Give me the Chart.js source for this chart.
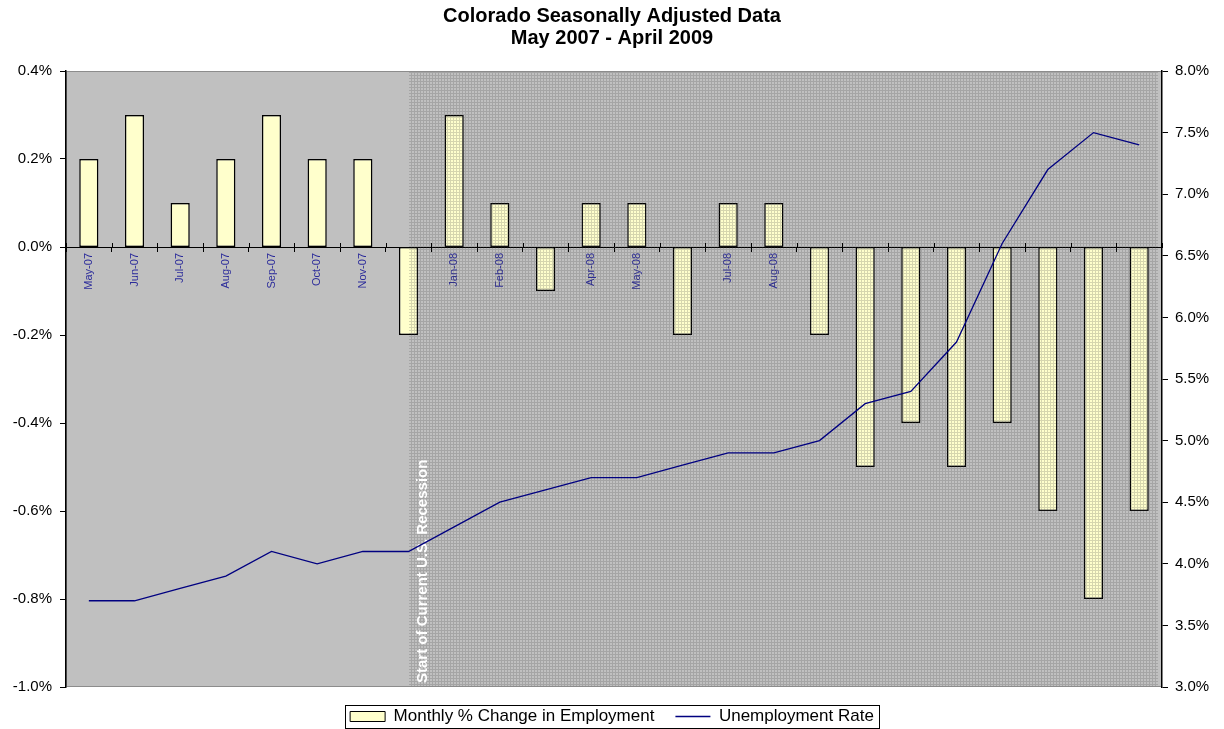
<!DOCTYPE html>
<html>
<head>
<meta charset="utf-8">
<script src="https://cdn.jsdelivr.net/npm/chart.js@4.4.1/dist/chart.umd.min.js"></script>
<style>
html, body { margin: 0; padding: 0; background: #fff; }
</style>
</head>
<body>
<canvas id="co-chart" width="1224" height="729"></canvas>
<script>
const months = ['May-07', 'Jun-07', 'Jul-07', 'Aug-07', 'Sep-07', 'Oct-07', 'Nov-07', 'Dec-07',
    'Jan-08', 'Feb-08', 'Mar-08', 'Apr-08', 'May-08', 'Jun-08', 'Jul-08', 'Aug-08',
    'Sep-08', 'Oct-08', 'Nov-08', 'Dec-08', 'Jan-09', 'Feb-09', 'Mar-09', 'Apr-09'];
const employmentChange = [0.2, 0.3, 0.1, 0.2, 0.3, 0.2, 0.2, -0.2,
    0.3, 0.1, -0.1, 0.1, 0.1, -0.2, 0.1, 0.1,
    -0.2, -0.5, -0.4, -0.5, -0.4, -0.6, -0.8, -0.6];
const unemploymentRate = [3.7, 3.7, 3.8, 3.9, 4.1, 4.0, 4.1, 4.1,
    4.3, 4.5, 4.6, 4.7, 4.7, 4.8, 4.9, 4.9,
    5.0, 5.3, 5.4, 5.8, 6.6, 7.2, 7.5, 7.4];
const recessionStart = 'Dec-07';
const recessionLabel = 'Start of Current U.S. Recession';

const font = "'Liberation Sans', Arial, sans-serif";
const pct = v => (Math.abs(v) < 1e-9 ? 0 : v).toFixed(1) + '%';

// little grey grid used for the recession shading
const tile = document.createElement('canvas');
tile.width = 3;
tile.height = 3;
const tctx = tile.getContext('2d');
tctx.fillStyle = 'rgba(70,70,70,0.22)';
tctx.fillRect(0, 0, 3, 1);
tctx.fillRect(0, 1, 1, 2);

const shading = {
    id: 'shading',
    beforeDraw(chart) {
        const {ctx, chartArea: a} = chart;
        ctx.save();
        ctx.fillStyle = '#c0c0c0';
        ctx.fillRect(a.left, a.top, a.width, a.height);
        ctx.strokeStyle = '#8c8c8c';
        ctx.lineWidth = 1;
        ctx.strokeRect(a.left + 0.5, a.top + 0.5, a.width - 1, a.height - 1);
        ctx.restore();
    },
    afterDatasetDraw(chart, args) {
        if (args.index !== 0) return;
        const {ctx, chartArea: a, scales} = chart;
        const startX = Math.round(scales.x.getPixelForValue(months.indexOf(recessionStart)));
        ctx.save();
        ctx.fillStyle = ctx.createPattern(tile, 'repeat');
        ctx.fillRect(startX, a.top + 1, a.right - 4 - startX, a.height - 2);
        ctx.translate(startX + 14, a.bottom - 4);
        ctx.rotate(-Math.PI / 2);
        ctx.fillStyle = '#fff';
        ctx.font = 'bold 15px ' + font;
        ctx.textBaseline = 'middle';
        ctx.fillText(recessionLabel, 0, 0);
        ctx.restore();
    },
    afterDraw(chart) {
        const {ctx, scales: {x}} = chart;
        // Excel style ticks crossing the zero line
        const y0 = Math.round(chart.scales.y.getPixelForValue(0));
        ctx.save();
        ctx.strokeStyle = '#000';
        ctx.lineWidth = 1;
        ctx.beginPath();
        for (let i = 0; i <= months.length; i++) {
            const px = Math.round(x.getPixelForValue(i - 0.5)) + 0.5;
            ctx.moveTo(px, y0 - 4);
            ctx.lineTo(px, y0);
        }
        ctx.stroke();

        const hb = chart.legend.legendHitBoxes;
        if (hb && hb.length) {
            const last = hb[hb.length - 1];
            const l = Math.round(hb[0].left - 5) + 0.5;
            const r = Math.round(last.left + last.width + 5) + 0.5;
            const t = Math.round(hb[0].top - 3) + 0.5;
            ctx.strokeRect(l, t, r - l, Math.round(hb[0].height + 6));
        }
        ctx.restore();
    }
};

Chart.defaults.font.family = font;
Chart.defaults.color = '#000';

new Chart(document.getElementById('co-chart'), {
    data: {
        labels: months,
        datasets: [{
            type: 'bar',
            label: 'Monthly % Change in Employment',
            data: employmentChange,
            yAxisID: 'y',
            backgroundColor: '#ffffcc',
            borderColor: '#000',
            borderWidth: 1.5,
            borderSkipped: false,
            categoryPercentage: 1,
            barPercentage: 0.42,
            order: 1
        }, {
            type: 'line',
            label: 'Unemployment Rate',
            data: unemploymentRate,
            yAxisID: 'y1',
            borderColor: '#000080',
            backgroundColor: '#000080',
            borderWidth: 1.3,
            pointRadius: 0,
            tension: 0,
            order: 0
        }]
    },
    options: {
        responsive: false,
        animation: false,
        layout: { padding: { bottom: -6 } },
        plugins: {
            title: {
                display: true,
                text: ['Colorado Seasonally Adjusted Data', 'May 2007 - April 2009'],
                font: { size: 20, weight: 'bold', lineHeight: 1.1 },
                color: '#000',
                padding: { top: 5, bottom: 22 }
            },
            legend: {
                position: 'bottom',
                labels: {
                    usePointStyle: true,
                    pointStyleWidth: 35,
                    boxWidth: 35,
                    boxHeight: 10,
                    padding: 21,
                    font: { size: 17 },
                    color: '#000',
                    sort: (a, b) => a.datasetIndex - b.datasetIndex,
                    generateLabels(chart) {
                        const items = Chart.defaults.plugins.legend.labels.generateLabels(chart);
                        items.forEach(it => {
                            if (it.datasetIndex === 0) {
                                it.pointStyle = 'rect';
                                it.fillStyle = '#ffffcc';
                                it.strokeStyle = '#000';
                                it.lineWidth = 1;
                            } else {
                                it.pointStyle = 'line';
                                it.strokeStyle = '#000080';
                                it.lineWidth = 1.5;
                            }
                        });
                        return items;
                    }
                }
            },
            tooltip: { enabled: false }
        },
        scales: {
            x: {
                position: { y: 0 },
                z: 1,
                offset: true,
                grid: { drawOnChartArea: false, color: '#000', tickLength: 4, offset: true },
                border: { color: '#000', width: 1 },
                ticks: {
                    color: '#2b2b9a',
                    font: { size: 11 },
                    minRotation: 90,
                    maxRotation: 90,
                    padding: 2,
                    autoSkip: false
                }
            },
            y: {
                position: 'left',
                min: -1.0,
                max: 0.4,
                afterFit(s) { s.width = 66; },
                grid: { drawOnChartArea: false, color: '#000', tickLength: 6 },
                border: { color: '#000', width: 1.5 },
                ticks: {
                    stepSize: 0.2,
                    font: { size: 15 },
                    padding: 8,
                    callback: pct
                }
            },
            y1: {
                position: 'right',
                min: 3.0,
                max: 8.0,
                afterFit(s) { s.width = 62; },
                grid: { drawOnChartArea: false, color: '#000', tickLength: 6 },
                border: { color: '#000', width: 1.5 },
                ticks: {
                    stepSize: 0.5,
                    font: { size: 15 },
                    padding: 7,
                    callback: pct
                }
            }
        }
    },
    plugins: [shading]
});
</script>
</body>
</html>
